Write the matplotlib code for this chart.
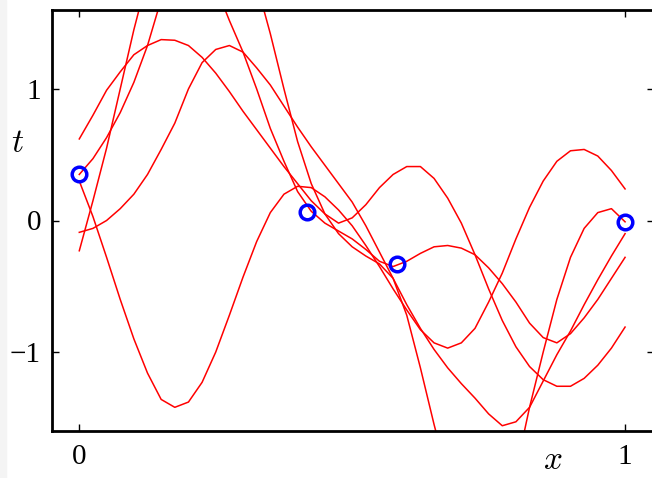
import matplotlib
matplotlib.use("Agg")
import matplotlib.pyplot as plt
from matplotlib.patches import Rectangle

# observed data points
x_data = [0.0, 0.417, 0.583, 1.0]
t_data = [0.35, 0.065, -0.33, -0.01]

x_grid = [0.0, 0.025, 0.05, 0.075, 0.1, 0.125, 0.15, 0.175, 0.2, 0.225,
          0.25, 0.275, 0.3, 0.325, 0.35, 0.375, 0.4, 0.425, 0.45, 0.475,
          0.5, 0.525, 0.55, 0.575, 0.6, 0.625, 0.65, 0.675, 0.7, 0.725,
          0.75, 0.775, 0.8, 0.825, 0.85, 0.875, 0.9, 0.925, 0.95, 0.975, 1.0]

# sampled curves (values above/below the frame are guesses, they get clipped)
curve_a = [0.62, 0.80, 0.99, 1.13, 1.26, 1.33, 1.375, 1.37, 1.33, 1.24,
           1.12, 0.98, 0.83, 0.69, 0.55, 0.41, 0.28, 0.15, 0.05, -0.02,
           0.02, 0.12, 0.25, 0.35, 0.41, 0.41, 0.32, 0.17, -0.02, -0.26,
           -0.52, -0.76, -0.96, -1.11, -1.21, -1.26, -1.26, -1.2, -1.1, -0.97, -0.81]
curve_b = [0.35, 0.47, 0.63, 0.82, 1.05, 1.33, 1.68, 1.95, 2.05, 1.98,
           1.78, 1.52, 1.28, 1.0, 0.70, 0.45, 0.22, 0.07, -0.02, -0.08,
           -0.14, -0.22, -0.31, -0.35, -0.31, -0.25, -0.2, -0.19, -0.21, -0.26,
           -0.36, -0.48, -0.62, -0.78, -0.89, -0.93, -0.86, -0.74, -0.6, -0.44, -0.28]
curve_c = [-0.09, -0.06, 0.0, 0.09, 0.2, 0.35, 0.54, 0.74, 1.0, 1.2,
           1.3, 1.33, 1.28, 1.16, 1.03, 0.87, 0.71, 0.56, 0.42, 0.28,
           0.14, -0.04, -0.24, -0.44, -0.64, -0.82, -0.98, -1.12, -1.24, -1.35,
           -1.47, -1.56, -1.53, -1.42, -1.22, -1.02, -0.84, -0.64, -0.45, -0.27, -0.10]
curve_d = [-0.23, 0.15, 0.55, 1.0, 1.45, 1.85, 2.2, 2.45, 2.6, 2.6,
           2.5, 2.3, 2.05, 1.8, 1.42, 1.0, 0.6, 0.28, 0.05, -0.1,
           -0.2, -0.27, -0.33, -0.44, -0.72, -1.12, -1.55, -1.95, -2.25, -2.4,
           -2.45, -2.3, -1.9, -1.42, -1.0, -0.6, -0.28, -0.06, 0.06, 0.09, -0.01]
curve_e = [0.30, 0.03, -0.28, -0.6, -0.9, -1.16, -1.36, -1.42, -1.38, -1.23,
           -1.0, -0.72, -0.43, -0.16, 0.06, 0.2, 0.26, 0.25, 0.18, 0.08,
           -0.04, -0.19, -0.35, -0.52, -0.68, -0.83, -0.93, -0.97, -0.93, -0.82,
           -0.62, -0.4, -0.14, 0.1, 0.3, 0.45, 0.53, 0.54, 0.49, 0.38, 0.24]

curves = [curve_a, curve_b, curve_c, curve_d, curve_e]

plt.rcParams['mathtext.fontset'] = 'cm'

fig = plt.figure(figsize=(6.52, 4.78), dpi=100)
fig.patches.append(Rectangle((0, 0), 6 / 652, 1, transform=fig.transFigure,
                             color='#f4f4f4', zorder=0))
ax = fig.add_axes([52 / 652, 47 / 478, 602 / 652, 421 / 478])

for c in curves:
    ax.plot(x_grid, c, color='red', lw=1.1)

ax.plot(x_data, t_data, 'o', ms=10.5, mfc='none', mec='blue', mew=2.5)

ax.set_xlim(-0.05, 1.053)
ax.set_ylim(-1.6, 1.6)
ax.set_xticks([0, 1])
ax.set_yticks([-1, 0, 1])
ax.set_xticklabels(['0', '1'])
ax.set_yticklabels(['\u22121', '0', '1'])
for lab in ax.get_xticklabels() + ax.get_yticklabels():
    lab.set_family('Liberation Serif')
    lab.set_fontsize(21)

ax.tick_params(direction='in', top=True, right=True, length=5, width=1)
ax.tick_params(axis='x', pad=9)
ax.tick_params(axis='y', pad=8)
for s in ax.spines.values():
    s.set_linewidth(2)

ax.set_xlabel('$x$', fontsize=24)
ax.xaxis.set_label_coords(0.832, -0.068)
ax.xaxis.label.set_va('center')
ax.set_ylabel('$t$', fontsize=24, rotation=0)
ax.yaxis.set_label_coords(-0.057, 0.686)
ax.yaxis.label.set_va('center')
ax.yaxis.label.set_ha('center')

fig.savefig('out.png', dpi=100)
